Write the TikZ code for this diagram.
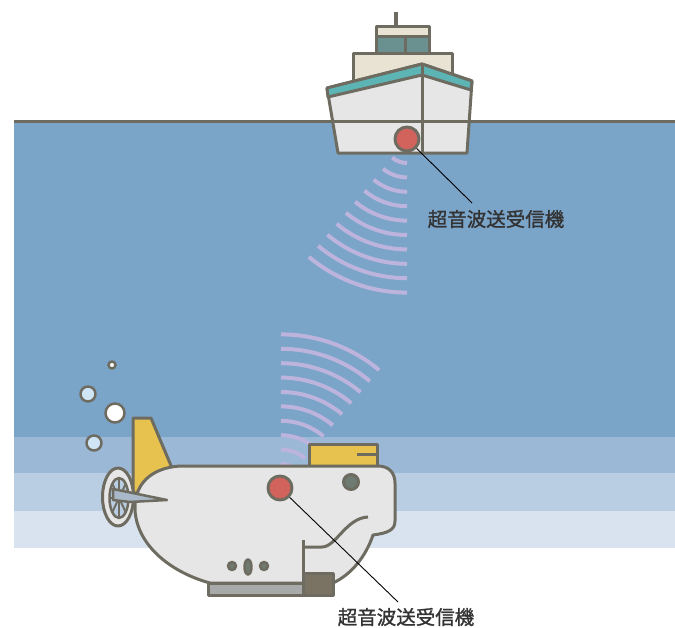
\documentclass[tikz,border=0pt]{standalone}
\usepackage{fontspec}
\newfontfamily\cjk[FakeBold=1.2]{Noto Sans CJK JP}
\definecolor{waterA}{HTML}{7BA4C9}
\definecolor{waterB}{HTML}{9CB8D7}
\definecolor{waterC}{HTML}{B9CDE3}
\definecolor{waterD}{HTML}{D9E3EF}
\definecolor{ink}{HTML}{6E6C61}
\definecolor{hull}{HTML}{E6E6E6}
\definecolor{tealband}{HTML}{5DB4B4}
\definecolor{cream}{HTML}{E9E3D3}
\definecolor{glass}{HTML}{6A9090}
\definecolor{sonar}{HTML}{D1625C}
\definecolor{wave}{HTML}{BCB4DC}
\definecolor{fin}{HTML}{E8C24E}
\definecolor{block}{HTML}{7A7263}
\definecolor{skid}{HTML}{A7AAA8}
\definecolor{port}{HTML}{6F7A70}
\definecolor{bubble}{HTML}{CFE4F4}
\definecolor{blade}{HTML}{A9B9C9}
\definecolor{labeltext}{HTML}{333333}
\begin{document}
\begin{tikzpicture}[x=1pt,y=-1pt,
  part/.style={draw=ink,line width=3pt,line join=round},
  sonarwave/.style={draw=wave,line width=4pt},
  transducer/.style={circle,part,fill=sonar,minimum size=24pt,inner sep=0pt},
  leader/.style={draw=black,line width=0.9pt},
  caption/.style={font=\cjk\fontsize{19.5}{20}\selectfont,text=labeltext,inner sep=0pt}]
\useasboundingbox (0,0) rectangle (675,627);

% sea, in depth bands
\fill[waterA] (14,121) rectangle (675,437);
\fill[waterB] (14,437) rectangle (675,473);
\fill[waterC] (14,473) rectangle (675,511);
\fill[waterD] (14,511) rectangle (675,548);

% ship: mast, bridge and cabin
\draw[ink,line width=4pt] (396,12) -- (396,27);
\filldraw[part,fill=cream] (353,53) rectangle (452,88);
\filldraw[part,fill=cream] (376,26) rectangle (429,53);
\filldraw[part,fill=glass] (376,36) rectangle (429,53);
\draw[part] (405,36) -- (405,53);
% hull with teal deck band
\filldraw[part,fill=hull] (327,88) -- (422,64) -- (472,81) -- (467,153) -- (338,153) -- cycle;
\filldraw[part,fill=tealband] (327,88) -- (422,64) -- (472,81) -- (471,90) -- (422,75) -- (328,97) -- cycle;
\draw[part] (422,64) -- (422,153);

% water surface
\draw[ink,line width=3pt] (14,121) -- (675,121);

% ship transducer and its pulses
\foreach \r in {23,37.4,51.8,66.2,80.6,95,109.4,123.8,138.2,152.6}
  \draw[sonarwave] (407,140) ++(90:\r) arc[start angle=90,end angle=130,radius=\r];
\node[transducer] (shipTx) at (407,139) {};
\coordinate (shipLead) at (472,203);
\draw[leader] (shipTx) -- (shipLead);
\node[caption] (shipLabel) at (496,219) {超音波送受信機};

% submersible pulses
\foreach \r in {23,37.4,51.8,66.2,80.6,95,109.4,123.8,138.2,152.6}
  \draw[sonarwave] (281,487) ++(270:\r) arc[start angle=270,end angle=310,radius=\r];

% bubbles
\filldraw[part,line width=2.5pt,fill=white] (112,365) circle[radius=3.5];
\filldraw[part,line width=2.5pt,fill=bubble] (88,394) circle[radius=7.5];
\filldraw[part,line width=2.5pt,fill=white] (115,413) circle[radius=9.5];
\filldraw[part,line width=2.5pt,fill=bubble] (94,443) circle[radius=7.5];

% tail fin and top hatch
\filldraw[part,fill=fin] (133,418) -- (151,418) -- (172,468) -- (133,495) -- cycle;
\filldraw[part,fill=fin] (309,444) rectangle (377,468);
\draw[part] (357,454) -- (377,454);

% hull of the submersible
\filldraw[part,fill=hull] (180,466) -- (378,466)
  .. controls (388,466) and (395,472) .. (395,483) -- (395,521)
  .. controls (395,530) and (388,533) .. (373,535)
  .. controls (366,556) and (352,574) .. (333,583) -- (210,583)
  .. controls (170,572) and (137,545) .. (135,510)
  .. controls (134,485) and (150,468) .. (180,466) -- cycle;
\draw[part] (303,540) -- (303,575);
\draw[part] (303,547) -- (322,547) .. controls (336,547) and (346,518) .. (368,517);
\filldraw[part,fill=skid] (208,583) rectangle (303,595);
\filldraw[part,fill=block] (303,573) rectangle (333,595);
\filldraw[part,fill=port] (351,482) circle[radius=7.5];
\filldraw[part,line width=2.5pt,fill=port] (232,566) circle[radius=4];
\filldraw[part,line width=2.5pt,fill=port] (248,567) ellipse[x radius=3.5,y radius=7.5];
\filldraw[part,line width=2.5pt,fill=port] (264,566) circle[radius=4];

% propeller
\filldraw[part,fill=hull] (118,497) ellipse[x radius=15.5,y radius=29];
\filldraw[part,line width=2.5pt,fill=waterC] (119,498) ellipse[x radius=9.5,y radius=20];
\foreach \a in {0,45,...,315}
  \draw[ink,line width=2pt] (119,498) -- ++(\a:9.5 and 20);
\filldraw[part,line width=2.5pt,fill=blade] (113,489) -- (167,500) -- (130,502) -- (113,500) -- cycle;

% submersible transducer
\node[transducer] (subTx) at (280,488) {};
\coordinate (subLead) at (398,602);
\draw[leader] (subTx) -- (subLead);
\node[caption] (subLabel) at (406,617) {超音波送受信機};
\end{tikzpicture}
\end{document}
